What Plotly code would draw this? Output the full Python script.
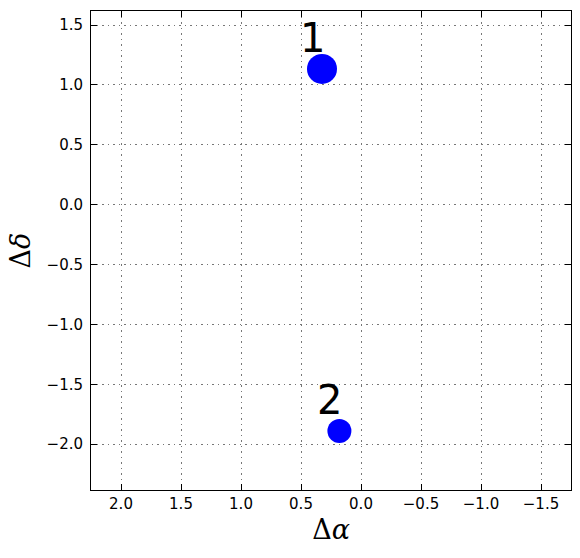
import plotly.graph_objects as go

labels = ["1", "2"]
dalpha = [0.325, 0.18]
ddelta = [1.133, -1.89]
sizes = [30, 24]

x_ticks = [2.0, 1.5, 1.0, 0.5, 0.0, -0.5, -1.0, -1.5]
y_ticks = [1.5, 1.0, 0.5, 0.0, -0.5, -1.0, -1.5, -2.0]

fig = go.Figure()
fig.add_trace(go.Scatter(
    x=dalpha, y=ddelta, mode="markers",
    marker=dict(color="#0000ff", size=sizes, opacity=1, line=dict(width=0)),
    showlegend=False, hoverinfo="skip",
))
for lab, xv, yv in zip(labels, dalpha, ddelta):
    fig.add_annotation(x=xv, y=yv, text=lab, showarrow=False,
                       xshift=-10, yshift=31, xanchor="center", yanchor="middle",
                       font=dict(family="DejaVu Sans", size=40, color="black"))

axis_common = dict(
    showline=True, linecolor="black", linewidth=1, mirror="allticks",
    ticks="inside", ticklen=6, tickwidth=1, tickcolor="black",
    showgrid=True, gridcolor="#777", griddash="1.5px,4px", gridwidth=1,
    zeroline=False, automargin=False,
    tickfont=dict(family="DejaVu Sans", size=15, color="black"),
)
fig.update_xaxes(range=[2.25, -1.75], tickvals=x_ticks,
                 ticktext=[f"{v:.1f}".replace("-", "\u2212") for v in x_ticks],
                 title=dict(text="Δ<i>α</i>", font=dict(family="DejaVu Serif", size=27, color="black"), standoff=8),
                 **axis_common)
fig.update_yaxes(range=[-2.383, 1.617], tickvals=y_ticks,
                 ticktext=[f"{v:.1f}".replace("-", "\u2212") for v in y_ticks],
                 ticklabelstandoff=4,
                 title=dict(text="Δ<i>δ</i>", font=dict(family="DejaVu Serif", size=27, color="black"), standoff=8),
                 **axis_common)
fig.update_layout(
    width=580, height=558,
    margin=dict(l=91, r=9, t=11, b=68, autoexpand=False),
    paper_bgcolor="white", plot_bgcolor="white",
)
fig.write_html("out.html", config={"displayModeBar": False},
               post_script="document.body.style.margin='0';")
